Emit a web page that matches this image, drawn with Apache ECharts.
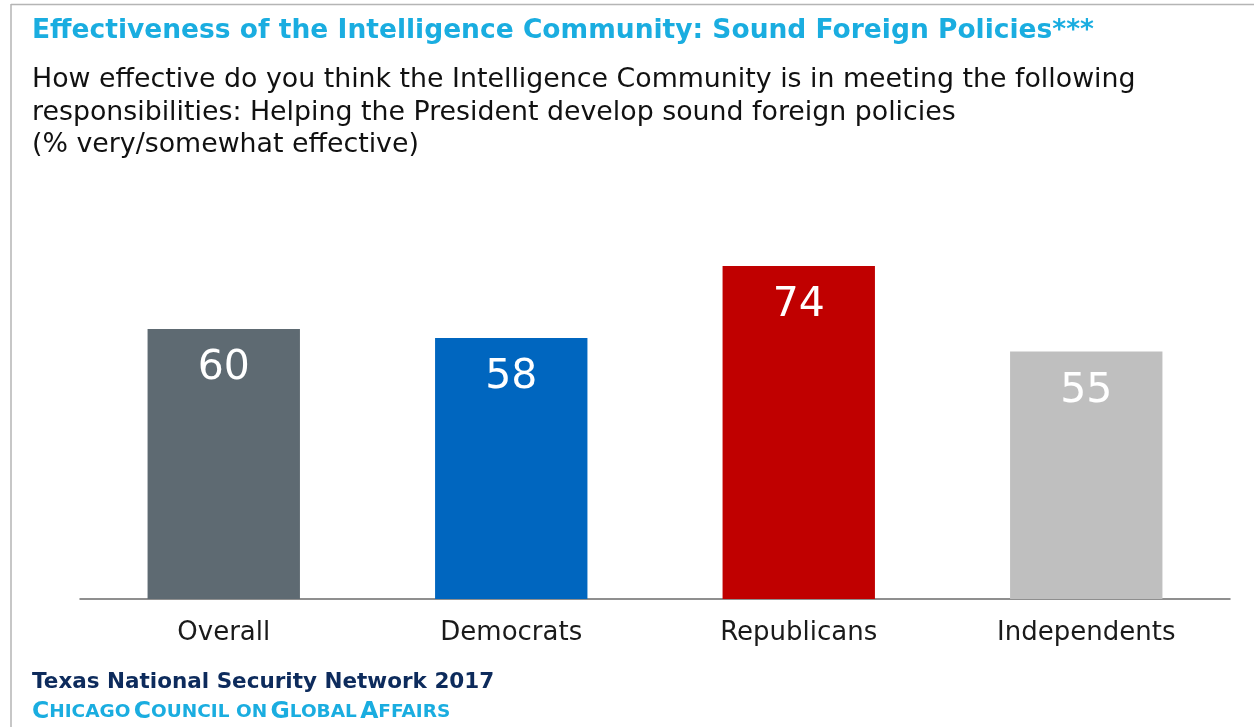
<!DOCTYPE html>
<html>
<head>
<meta charset="utf-8">
<script src="https://cdn.jsdelivr.net/npm/echarts@6/dist/echarts.min.js"></script>
<style>
  html, body { margin: 0; padding: 0; background: #fff; }
  #chart { width: 1254px; height: 727px; }
</style>
</head>
<body>
<div id="chart"></div>
<script>
// Share rating the Intelligence Community as very/somewhat effective, by party
const categories = ['Overall', 'Democrats', 'Republicans', 'Independents'];
const values = [60, 58, 74, 55];
const barColors = ['#5E6A72', '#0066BF', '#C00000', '#BFBFBF'];

const titleText = 'Effectiveness of the Intelligence Community: Sound Foreign Policies***';
const subtitleLines = [
  'How effective do you think the Intelligence Community is in meeting the following',
  'responsibilities: Helping the President develop sound foreign policies',
  '(% very/somewhat effective)'
];
const sourceLine = 'Texas National Security Network 2017';

const FONT = '"DejaVu Sans", sans-serif';

const chart = echarts.init(document.getElementById('chart'), null, { renderer: 'canvas' });

chart.setOption({
  backgroundColor: '#ffffff',
  animation: false,
  grid: { left: 80, right: 24, top: 149, bottom: 128, containLabel: false },
  xAxis: {
    type: 'category',
    data: categories,
    axisLine: { show: true, lineStyle: { color: '#6b6b6b', width: 1.5 } },
    axisTick: { show: false },
    axisLabel: {
      color: '#1a1a1a',
      fontFamily: FONT,
      fontSize: 26,
      margin: 21
    }
  },
  yAxis: {
    type: 'value',
    min: 0,
    max: 100,
    show: false,
    splitLine: { show: false }
  },
  series: [{
    type: 'bar',
    barWidth: '53%',
    data: values.map((v, i) => ({ value: v, itemStyle: { color: barColors[i] } })),
    label: {
      show: true,
      position: 'insideTop',
      distance: 19,
      color: '#ffffff',
      fontFamily: FONT,
      fontSize: 41
    }
  }],
  graphic: [
    // frame lines along the top and left edge
    { type: 'line', shape: { x1: 11, y1: 4.5, x2: 1254, y2: 4.5 }, style: { stroke: '#b5b5b5', lineWidth: 1.5 } },
    { type: 'line', shape: { x1: 11, y1: 4, x2: 11, y2: 727 }, style: { stroke: '#b5b5b5', lineWidth: 1.5 } },
    {
      type: 'text', left: 32, top: 18,
      style: { text: titleText, fill: '#1AADE0', font: 'bold 26.5px ' + FONT }
    },
    {
      type: 'text', left: 32, top: 64,
      style: { text: subtitleLines.join('\n'), fill: '#111111', font: '26.8px ' + FONT, lineHeight: 32.5 }
    },
    {
      type: 'text', left: 32, top: 671,
      style: { text: sourceLine, fill: '#0D2B5C', font: 'bold 21.5px ' + FONT }
    },
    {
      type: 'text', left: 32, top: 700,
      style: {
        text: '{b|C}{s|HICAGO} {b|C}{s|OUNCIL ON} {b|G}{s|LOBAL} {b|A}{s|FFAIRS}',
        rich: {
          b: { fill: '#1AADE0', font: 'bold 23.5px ' + FONT },
          s: { fill: '#1AADE0', font: 'bold 18.5px ' + FONT }
        }
      }
    }
  ]
});
</script>
</body>
</html>
